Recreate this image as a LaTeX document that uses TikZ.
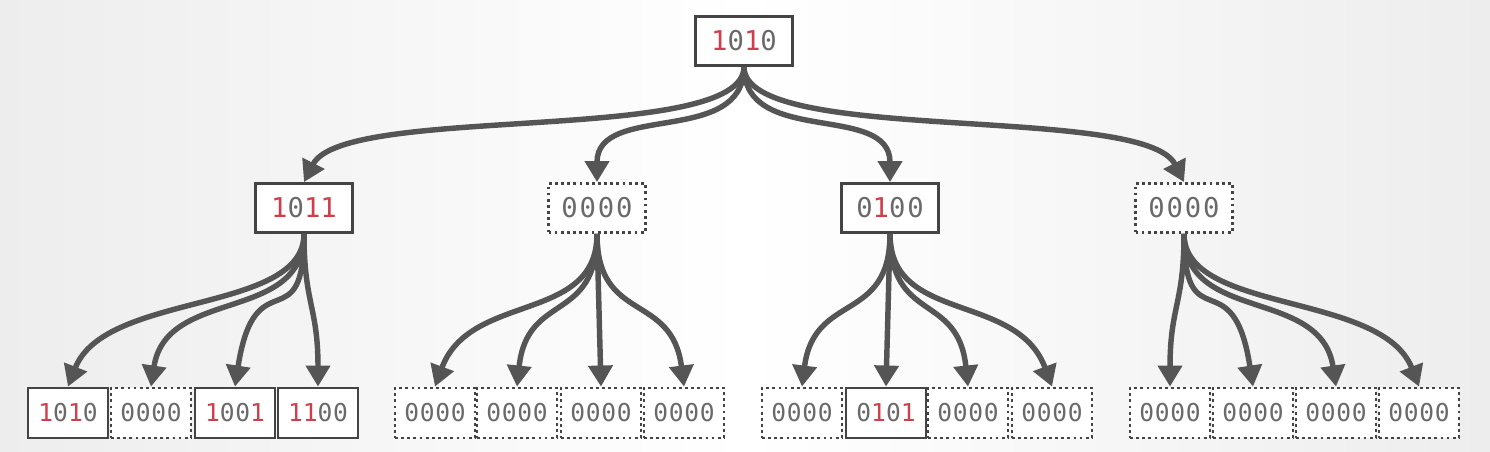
\documentclass[tikz,border=0pt]{standalone}
\usepackage{fontspec}
\usetikzlibrary{arrows.meta}
\newfontfamily\bitfont{DejaVu Sans Mono}[LetterSpace=7]
\newfontfamily\leaffont{DejaVu Sans Mono}[LetterSpace=3]
\definecolor{bitred}{HTML}{CF3F4B}
\definecolor{bitgray}{HTML}{6A6A6A}
\definecolor{boxgray}{HTML}{444444}
\definecolor{linkgray}{HTML}{555555}
\definecolor{bgedge}{HTML}{EDEDED}
\newcommand{\hb}{\textcolor{bitred}{1}}
\tikzset{
  bits/.style={fill=white, text=bitgray, inner sep=0pt, line width=1.6pt,
    minimum width=1.94cm, minimum height=0.98cm, font=\bitfont\fontsize{15.5}{17}\selectfont},
  leafbits/.style={bits, minimum width=1.6cm, minimum height=1.0cm, font=\leaffont\fontsize{14}{16}\selectfont},
  full/.style={draw=boxgray},
  empty/.style={draw=boxgray, dash pattern=on 1.6pt off 1.9pt},
  link/.style={draw=linkgray, line width=3.1pt, -{Triangle[length=12pt,width=13.5pt]}}
}
\begin{document}
\begin{tikzpicture}[x=0.02cm, y=-0.02cm]
        \useasboundingbox (0,0) rectangle (1490,452);
        \fill[left color=bgedge, right color=bgedge, middle color=white] (0,0) rectangle (1490,452);
        % root
        \node[bits, full] (root) at (744, 41) {\hb0\hb0};
        % second level
        \node[bits, full]  (left)     at ( 304, 208) {\hb0\hb\hb};
        \node[bits, empty] (midleft)  at ( 597, 208) {0000};
        \node[bits, full]  (midright) at ( 890, 208) {0\hb00};
        \node[bits, empty] (right)    at (1184, 208) {0000};
        % leaves
        \node[leafbits, full]  (left1) at (  68, 413) {\hb0\hb0};
        \node[leafbits, empty] (left2) at ( 151, 413) {0000};
        \node[leafbits, full]  (left3) at ( 235, 413) {\hb00\hb};
        \node[leafbits, full]  (left4) at ( 318, 413) {\hb\hb00};
        \node[leafbits, empty] (midleft1) at (435, 413) {0000};
        \node[leafbits, empty] (midleft2) at (517, 413) {0000};
        \node[leafbits, empty] (midleft3) at (601, 413) {0000};
        \node[leafbits, empty] (midleft4) at (684, 413) {0000};
        \node[leafbits, empty] (midright1) at ( 802, 413) {0000};
        \node[leafbits, full]  (midright2) at ( 886, 413) {0\hb0\hb};
        \node[leafbits, empty] (midright3) at ( 968, 413) {0000};
        \node[leafbits, empty] (midright4) at (1052, 413) {0000};
        \node[leafbits, empty] (right1) at (1170, 413) {0000};
        \node[leafbits, empty] (right2) at (1253, 413) {0000};
        \node[leafbits, empty] (right3) at (1336, 413) {0000};
        \node[leafbits, empty] (right4) at (1419, 413) {0000};
        % root links
        \draw[link] (root.south) .. controls +(0,79) and +(40,-79) .. (left.north);
        \draw[link] (root.south) .. controls +(0,80) and +(0,-80) .. (midleft.north);
        \draw[link] (root.south) .. controls +(0,80) and +(0,-80) .. (midright.north);
        \draw[link] (root.south) .. controls +(0,79) and +(-40,-79) .. (right.north);
        % left links
        \draw[link] (left.south) .. controls +(0,80) and +(37,-95) .. (left1.north);
        \draw[link] (left.south) .. controls +(0,90) and +(15,-100) .. (left2.north);
        \draw[link] (left.south) .. controls +(0,110) and +(20,-130) .. (left3.north);
        \draw[link] (left.south) .. controls +(0,70) and +(0,-80) .. (left4.north);
        % midleft links
        \draw[link] (midleft.south) .. controls +(0,90) and +(35,-95) .. (midleft1.north);
        \draw[link] (midleft.south) .. controls +(0,90) and +(10,-95) .. (midleft2.north);
        \draw[link] (midleft.south) -- (midleft3.north);
        \draw[link] (midleft.south) .. controls +(0,90) and +(-12,-95) .. (midleft4.north);
        % midright links
        \draw[link] (midright.south) .. controls +(0,90) and +(12,-95) .. (midright1.north);
        \draw[link] (midright.south) -- (midright2.north);
        \draw[link] (midright.south) .. controls +(0,90) and +(-10,-95) .. (midright3.north);
        \draw[link] (midright.south) .. controls +(0,90) and +(-35,-95) .. (midright4.north);
        % right links
        \draw[link] (right.south) .. controls +(0,70) and +(0,-80) .. (right1.north);
        \draw[link] (right.south) .. controls +(0,110) and +(-20,-130) .. (right2.north);
        \draw[link] (right.south) .. controls +(0,90) and +(-15,-100) .. (right3.north);
        \draw[link] (right.south) .. controls +(0,80) and +(-37,-95) .. (right4.north);
      \end{tikzpicture}
\end{document}
